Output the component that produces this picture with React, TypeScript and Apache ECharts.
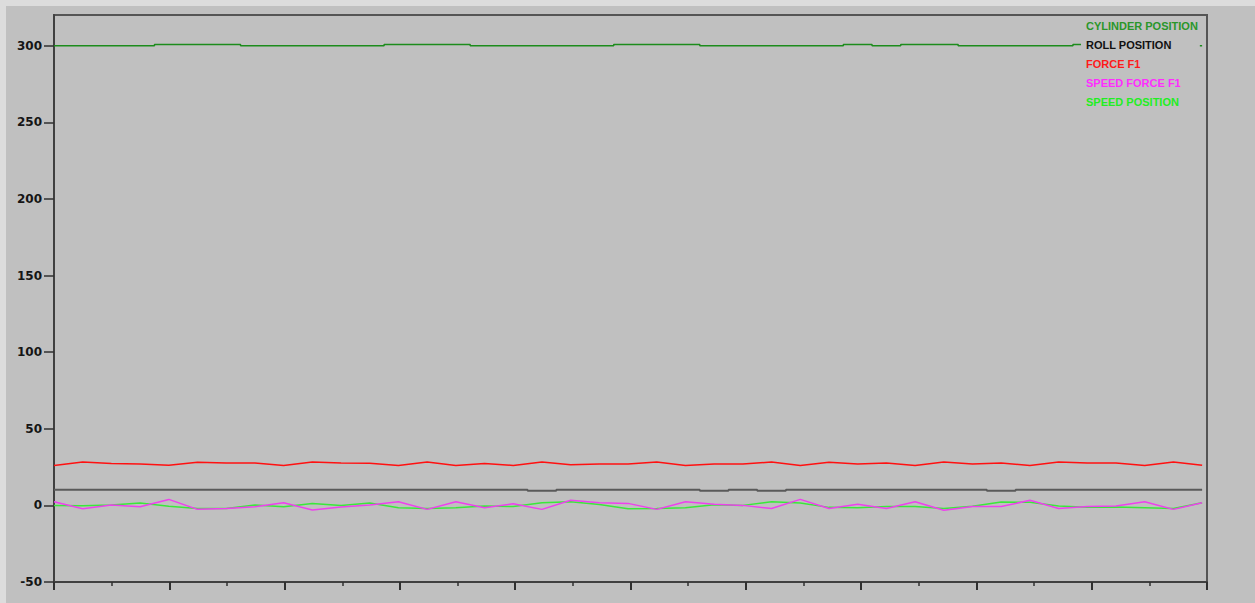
import React, { useEffect, useRef } from 'react';
import * as echarts from 'echarts';

// 41 samples per series (sample index 0..40)
const seriesNames = ['CYLINDER POSITION', 'ROLL POSITION', 'FORCE F1', 'SPEED FORCE F1', 'SPEED POSITION'];

const cylinderPosition = [
  300, 300, 300, 300, 300.7, 300.7, 300.7, 300, 300, 300, 300, 300, 300.7, 300.7, 300.7, 300, 300, 300, 300, 300,
  300.7, 300.7, 300.7, 300, 300, 300, 300, 300, 300.7, 300, 300.7, 300.7, 300, 300, 300, 300, 300.7, 300.7, 300, 300, 300,
];

const rollPosition = [
  10.2, 10.2, 10.2, 10.2, 10.2, 10.2, 10.2, 10.2, 10.2, 10.2, 10.2, 10.2, 10.2, 10.2, 10.2, 10.2, 10.2, 9.5, 10.2, 10.2,
  10.2, 10.2, 10.2, 9.5, 10.2, 9.5, 10.2, 10.2, 10.2, 10.2, 10.2, 10.2, 10.2, 9.5, 10.2, 10.2, 10.2, 10.2, 10.2, 10.2, 10.2,
];

const forceF1 = [
  26.1, 28.3, 27.3, 27.0, 26.2, 28.2, 27.6, 27.6, 26.1, 28.3, 27.6, 27.5, 26.1, 28.3, 26.1, 27.3, 26.1, 28.3, 26.5, 27.0,
  27.0, 28.3, 26.1, 27.0, 27.0, 28.3, 26.1, 28.2, 27.0, 27.6, 26.1, 28.3, 27.0, 27.6, 26.1, 28.3, 27.6, 27.6, 26.1, 28.3, 26.2,
];

const speedForceF1 = [
  2.4, -2.2, 0.2, -0.9, 3.9, -2.6, -2.0, -0.9, 1.7, -3.0, -1.1, 0.2, 2.4, -2.6, 2.4, -1.5, 1.1, -2.6, 3.3, 1.7,
  1.3, -2.6, 2.4, 0.7, 0.0, -2.0, 3.9, -2.0, 0.7, -2.0, 2.4, -3.2, -0.8, -0.8, 3.3, -2.0, -0.8, -0.4, 2.4, -2.6, 1.7,
];

const speedPosition = [
  0.0, -0.3, 0.2, 1.5, -0.5, -2.0, -2.0, 0.2, -0.9, 1.3, 0.0, 1.5, -1.6, -2.0, -1.5, -0.4, -0.8, 1.7, 2.4, 0.5,
  -2.2, -2.0, -1.5, 0.4, 0.0, 2.4, 1.5, -1.3, -1.5, -0.8, -0.8, -2.0, -0.6, 2.2, 2.0, -0.4, -1.3, -1.0, -1.5, -2.0, 1.7,
];

const yTickValues = [-50, 0, 50, 100, 150, 200, 250, 300];
const yMin = -50;
const yMax = 320;
const xMax = 40.17;

const lineColors = {
  cylinder: '#1c8c1c',
  roll: '#5a5a5a',
  force: '#ff1010',
  speedForce: '#ee40ee',
  speedPos: '#3ae83a',
};

const legendColors = ['#2a962a', '#111111', '#ff1a1a', '#ff2cff', '#22ee22'];

const toPoints = (arr: number[]) => arr.map((v, i) => [i, v]);

export default function App() {
  const ref = useRef<HTMLDivElement>(null);

  useEffect(() => {
    document.body.style.margin = '0';
    document.body.style.background = '#dcdcdc';
    if (!ref.current) return;
    const chart = echarts.init(ref.current, undefined, { renderer: 'svg' });
    const lineBase = { type: 'line' as const, showSymbol: false, symbol: 'none', silent: true };
    chart.setOption({
      animation: false,
      backgroundColor: '#c0c0c0',
      textStyle: { fontFamily: 'Liberation Sans, Arial, sans-serif' },
      grid: {
        left: 48,
        right: 48,
        top: 9,
        bottom: 21,
        show: true,
        borderColor: '#555555',
        borderWidth: 2,
        backgroundColor: '#c0c0c0',
      },
      legend: {
        orient: 'vertical',
        left: 1075,
        top: 12,
        padding: [2, 2, 4, 0],
        itemGap: 8,
        itemWidth: 0,
        itemHeight: 0,
        icon: 'rect',
        selectedMode: false,
        backgroundColor: '#c0c0c0',
        textStyle: { fontSize: 11, fontWeight: 'bold', fontFamily: 'Liberation Sans, Arial, sans-serif' },
        data: seriesNames.map((n, i) => ({ name: n, textStyle: { color: legendColors[i] } })),
      },
      xAxis: {
        type: 'value',
        min: 0,
        max: xMax,
        interval: xMax / 10,
        axisLine: { onZero: false, lineStyle: { color: '#404040', width: 2 } },
        axisTick: { show: true, length: 8, lineStyle: { color: '#303030', width: 2 } },
        minorTick: { show: true, splitNumber: 2, length: 4, lineStyle: { color: '#303030', width: 1.5 } },
        axisLabel: { show: false },
        splitLine: { show: false },
      },
      yAxis: {
        type: 'value',
        min: yMin,
        max: yMax,
        interval: 50,
        axisLine: { show: true, onZero: false, lineStyle: { color: '#404040', width: 2 } },
        axisTick: { show: true, length: 10, customValues: yTickValues, lineStyle: { color: '#303030', width: 1.5 } },
        axisLabel: {
          customValues: yTickValues,
          margin: 12,
          color: '#151515',
          fontSize: 12,
          fontWeight: 'bold',
          fontFamily: 'DejaVu Sans, Verdana, sans-serif',
        },
        splitLine: { show: false },
      },
      series: [
        { ...lineBase, name: seriesNames[0], step: 'middle', data: toPoints(cylinderPosition), lineStyle: { color: lineColors.cylinder, width: 1.5 }, itemStyle: { color: lineColors.cylinder } },
        { ...lineBase, name: seriesNames[1], step: 'middle', data: toPoints(rollPosition), lineStyle: { color: lineColors.roll, width: 2 }, itemStyle: { color: lineColors.roll } },
        { ...lineBase, name: seriesNames[2], data: toPoints(forceF1), lineStyle: { color: lineColors.force, width: 1.5 }, itemStyle: { color: lineColors.force } },
        { ...lineBase, name: seriesNames[4], data: toPoints(speedPosition), lineStyle: { color: lineColors.speedPos, width: 1.5 }, itemStyle: { color: lineColors.speedPos } },
        { ...lineBase, name: seriesNames[3], data: toPoints(speedForceF1), lineStyle: { color: lineColors.speedForce, width: 1.5 }, itemStyle: { color: lineColors.speedForce } },
      ],
    });
    return () => chart.dispose();
  }, []);

  return (
    <div
      ref={ref}
      style={{ position: 'absolute', left: 6, top: 6, width: 1249, height: 597 }}
    />
  );
}
